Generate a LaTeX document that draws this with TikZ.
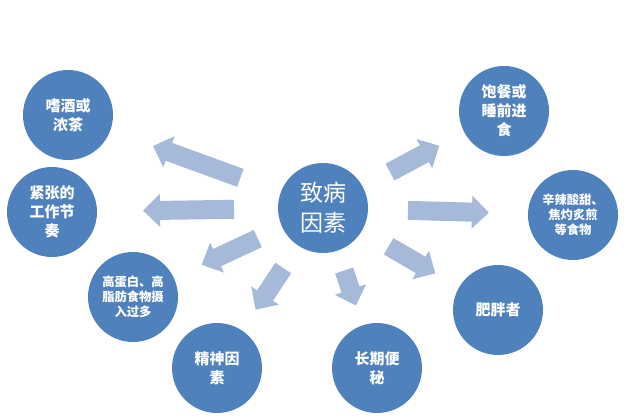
\documentclass[tikz,border=0pt]{standalone}
\usepackage{fontspec}
\setmainfont{Noto Sans CJK SC}
\usetikzlibrary{arrows.meta,calc}
\definecolor{circ}{RGB}{79,129,189}
\definecolor{arr}{RGB}{167,185,216}
\tikzset{
 bub/.style={circle,fill=circ,minimum size=90pt,inner sep=0pt,text=white,align=center,font=\fontsize{15}{19}\selectfont\bfseries},
 smalltxt/.style={font=\fontsize{12.3}{15}\selectfont\bfseries},
 bigtxt/.style={font=\fontsize{23}{30}\selectfont},
 blk/.style={draw=arr,line width=19pt,-{Triangle[width=32pt,length=17pt]}}
}
\begin{document}
\begin{tikzpicture}[x=1pt,y=-1pt]
\useasboundingbox (0,0) rectangle (640,419);
\node[bub,bigtxt] (c) at (323,208) {致病\\因素};
\node[bub] (a1) at (68,115) {嗜酒或\\浓茶};
\node[bub] (a2) at (52,212) {紧张的\\工作节\\奏};
\node[bub,smalltxt] (a3) at (133,297) {高蛋白、高\\脂肪食物摄\\入过多};
\node[bub] (a4) at (217,368) {精神因\\素};
\node[bub] (a5) at (377,368) {长期便\\秘};
\node[bub] (a6) at (498,310) {肥胖者};
\node[bub,smalltxt] (a7) at (573,215) {辛辣酸甜、\\焦灼炙煎\\等食物};
\node[bub] (a8) at (504,111) {饱餐或\\睡前进\\食};
\draw[blk] ($(c)!88pt!(a1)$) -- ($(c)!181pt!(a1)$);
\draw[blk] ($(c)!89pt!(a2)$) -- ($(c)!180pt!(a2)$);
\draw[blk] ($(c)!72pt!(a3)$) -- ($(c)!134pt!(a3)$);
\draw[blk] ($(c)!72pt!(a4)$) -- ($(c)!122pt!(a4)$);
\draw[blk] ($(c)!66pt!(a5)$) -- ($(c)!103pt!(a5)$);
\draw[blk] ($(c)!76pt!(a6)$) -- ($(c)!130pt!(a6)$);
\draw[blk] ($(c)!85pt!(a7)$) -- ($(c)!166pt!(a7)$);
\draw[blk] ($(c)!76pt!(a8)$) -- ($(c)!132pt!(a8)$);
\end{tikzpicture}
\end{document}
